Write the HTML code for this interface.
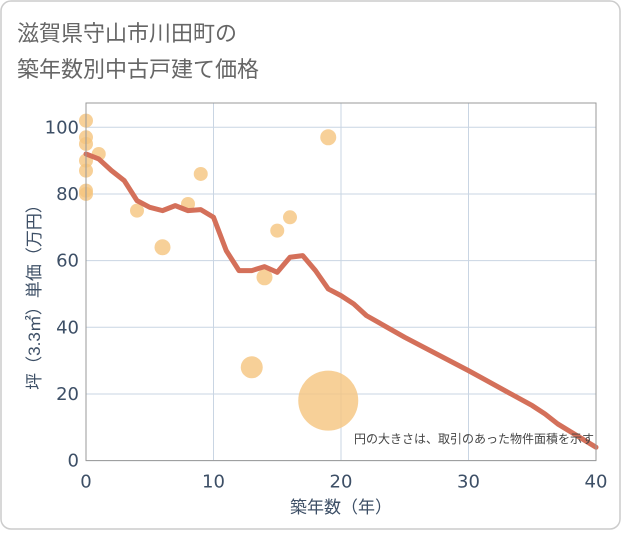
<!DOCTYPE html>
<html><head><meta charset="utf-8">
<style>
body{margin:0;background:#fff;}
svg text{font-family:"Liberation Sans","Noto Sans CJK JP",sans-serif;}
svg text.num{font-family:"DejaVu Sans","Liberation Sans",sans-serif;}
</style></head>
<body>
<svg id="chart" width="621" height="530" xmlns="http://www.w3.org/2000/svg">
<rect x="1" y="1" width="619" height="528" rx="10" fill="#fff" stroke="#ccc" stroke-width="1.5"/>
<text x="17" y="41" font-size="22" fill="#666">滋賀県守山市川田町の</text>
<text x="17" y="77" font-size="22" fill="#666">築年数別中古戸建て価格</text>
<g id="grid"></g>
<g id="marks"></g>
<g id="axes"></g>
<text x="594" y="443" font-size="12" fill="#444" text-anchor="end">円の大きさは、取引のあった物件面積を示す</text>
<text x="341" y="513" font-size="17" fill="#3d4f66" text-anchor="middle">築年数（年）</text>
<text transform="translate(40,293) rotate(-90)" font-size="17" fill="#3d4f66" text-anchor="middle">坪（3.3㎡）単価（万円）</text>
</svg>
<script>
const xTicks=[0,10,20,30,40];
const yTicks=[0,20,40,60,80,100];
const lineX=[0,1,2,3,4,5,6,7,8,9,10,11,12,13,14,15,16,17,18,19,20,21,22,25,30,35,36,37,40];
const lineY=[92,90.5,87,84,78,76,75,76.5,75,75.3,73,63,57,57,58.2,56.5,61,61.5,57,51.5,49.5,47,43.5,37,27,16.5,14,11,4];
const ptX=[0,0,0,0,0,0,0,1,4,6,8,9,13,14,15,16,19,19];
const ptY=[102,97,95,90,87,81,80,92,75,64,77,86,28,55,69,73,97,18];
const ptR=[7,7,7,7,7,7,7,7,7,8,7,7,11,8,7,7,8,30];
const L=86,R=596,T=103,B=460.6;
const xs=v=>L+(v/40)*(R-L);
const ys=v=>B-(v/100)*(B-127.3);
const NS="http://www.w3.org/2000/svg";
function mk(tag,attrs,parent){const e=document.createElementNS(NS,tag);for(const k in attrs)e.setAttribute(k,attrs[k]);document.getElementById(parent).appendChild(e);return e;}
xTicks.forEach(t=>{
 const g=mk('line',{x1:xs(t),x2:xs(t),y1:T,y2:B,stroke:'#c9d5e3','stroke-width':1},'grid');
 
 
 const l=mk('text',{x:xs(t),y:B+27,'font-size':18,fill:'#3d4f66','text-anchor':'middle','class':'num'},'axes');
 l.textContent=t;
 
 
});
yTicks.forEach(t=>{
 const g=mk('line',{x1:L,x2:R,y1:ys(t),y2:ys(t),stroke:'#c9d5e3','stroke-width':1},'grid');
 
 
 const l=mk('text',{x:L-7,y:ys(t)+6,'font-size':18,fill:'#3d4f66','text-anchor':'end','class':'num'},'axes');
 l.textContent=t;
 
 
});
const fr=mk('rect',{x:L,y:T,width:R-L,height:B-T,fill:'none',stroke:'#999','stroke-width':1},'axes');


ptX.forEach((x,i)=>{
 const c=mk('circle',{cx:xs(x),cy:ys(ptY[i]),r:ptR[i],fill:'#f5c47e','fill-opacity':0.8},'marks');
 
 
});
const p=mk('polyline',{points:lineX.map((x,i)=>xs(x)+','+ys(lineY[i])).join(' '),fill:'none',stroke:'#d4705a','stroke-width':5,'stroke-linejoin':'round','stroke-linecap':'round'},'marks');


</script>
</body></html>
